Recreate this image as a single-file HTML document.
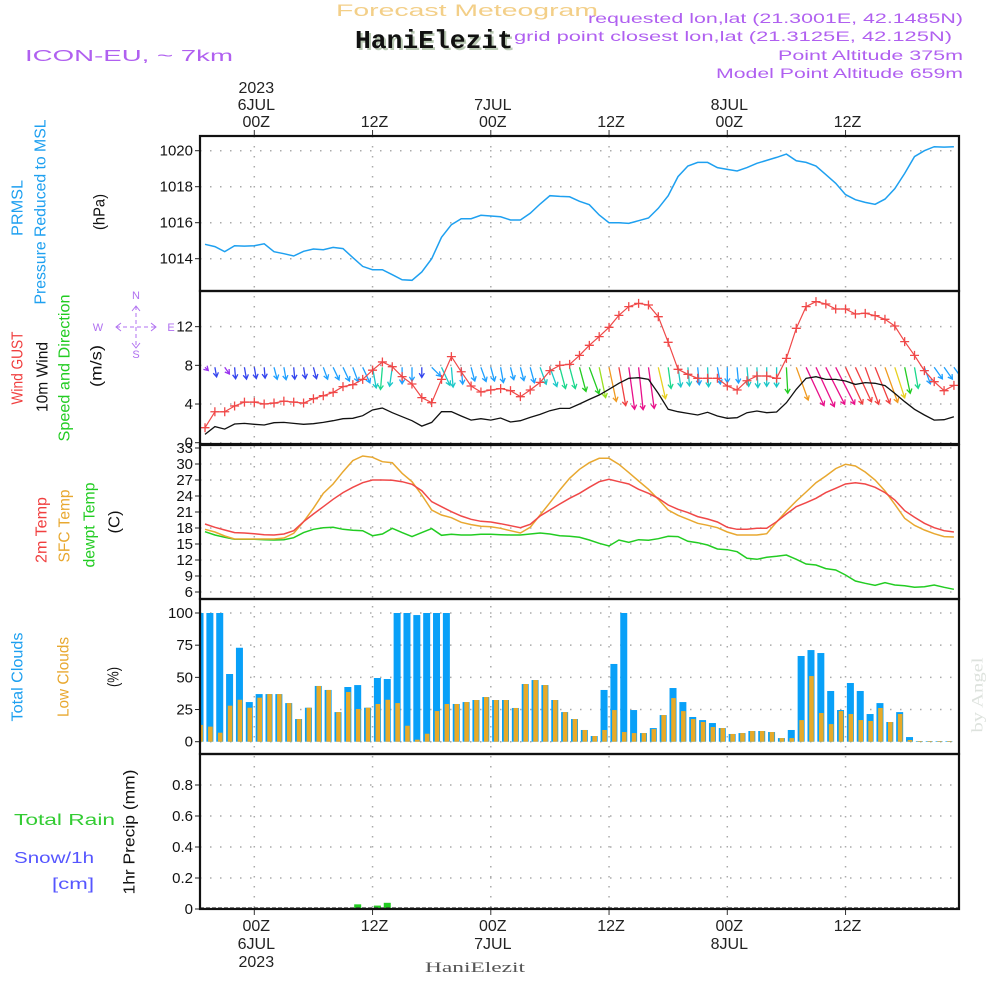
<!DOCTYPE html>
<html><head><meta charset="utf-8"><title>Forecast Meteogram HaniElezit</title>
<style>
html,body{margin:0;padding:0;background:#fff;}
svg{display:block;font-family:"Liberation Sans",sans-serif;}
.tk{font-size:15px;fill:#111;text-anchor:end;}
.tl{font-size:16px;fill:#222;text-anchor:middle;}
</style></head>
<body>
<svg id="chart" width="1000" height="1000" viewBox="0 0 1000 1000" xmlns="http://www.w3.org/2000/svg">
<defs>
<clipPath id="c1"><rect x="200" y="136" width="759" height="155"/></clipPath>
<clipPath id="c2"><rect x="200" y="291" width="759" height="153"/></clipPath>
<clipPath id="c3"><rect x="200" y="445" width="759" height="154"/></clipPath>
<clipPath id="c4"><rect x="200" y="599" width="759" height="155"/></clipPath>
<clipPath id="c5"><rect x="200" y="754" width="759" height="155"/></clipPath>
</defs>
<rect width="1000" height="1000" fill="#fff"/>
<text x="467" y="16" font-size="17" fill="#f3cf88" text-anchor="middle" textLength="262" lengthAdjust="spacingAndGlyphs">Forecast Meteogram</text>
<text x="436" y="50" font-size="26" font-weight="bold" font-family="Liberation Mono, monospace" fill="#b9c9b3" text-anchor="middle" textLength="158" lengthAdjust="spacingAndGlyphs">HaniElezit</text>
<text x="434" y="48" font-size="26" font-weight="bold" font-family="Liberation Mono, monospace" fill="#111" text-anchor="middle" textLength="158" lengthAdjust="spacingAndGlyphs">HaniElezit</text>
<text x="25" y="61" font-size="16" fill="#b060f0" textLength="208" lengthAdjust="spacingAndGlyphs">ICON-EU, ~ 7km</text>
<text x="963" y="23" font-size="14" fill="#b060f0" text-anchor="end" textLength="375" lengthAdjust="spacingAndGlyphs">requested lon,lat (21.3001E, 42.1485N)</text>
<text x="952" y="41" font-size="14" fill="#b060f0" text-anchor="end" textLength="438" lengthAdjust="spacingAndGlyphs">grid point closest lon,lat (21.3125E, 42.125N)</text>
<text x="963" y="60" font-size="14" fill="#b060f0" text-anchor="end" textLength="185" lengthAdjust="spacingAndGlyphs">Point Altitude 375m</text>
<text x="963" y="78" font-size="14" fill="#b060f0" text-anchor="end" textLength="247" lengthAdjust="spacingAndGlyphs">Model Point Altitude 659m</text>

<g font-size="16">
<text transform="translate(18,208) rotate(-90)" fill="#1ea0f0" text-anchor="middle" dominant-baseline="central" textLength="56" lengthAdjust="spacingAndGlyphs">PRMSL</text>
<text transform="translate(41,212) rotate(-90)" fill="#1ea0f0" text-anchor="middle" dominant-baseline="central" textLength="185" lengthAdjust="spacingAndGlyphs">Pressure Reduced to MSL</text>
<text transform="translate(100,212) rotate(-90)" fill="#111" text-anchor="middle" dominant-baseline="central" textLength="36" lengthAdjust="spacingAndGlyphs">(hPa)</text>
<text transform="translate(18,368) rotate(-90)" fill="#f04040" text-anchor="middle" dominant-baseline="central" textLength="73" lengthAdjust="spacingAndGlyphs">Wind GUST</text>
<text transform="translate(43,377) rotate(-90)" fill="#111" text-anchor="middle" dominant-baseline="central" textLength="70" lengthAdjust="spacingAndGlyphs">10m Wind</text>
<text transform="translate(65,368) rotate(-90)" fill="#22cc22" text-anchor="middle" dominant-baseline="central" textLength="147" lengthAdjust="spacingAndGlyphs">Speed and Direction</text>
<text transform="translate(97,366) rotate(-90)" fill="#111" text-anchor="middle" dominant-baseline="central" textLength="42" lengthAdjust="spacingAndGlyphs">(m/s)</text>
<text transform="translate(42,530) rotate(-90)" fill="#f04040" text-anchor="middle" dominant-baseline="central" textLength="66" lengthAdjust="spacingAndGlyphs">2m Temp</text>
<text transform="translate(65,526) rotate(-90)" fill="#e8a830" text-anchor="middle" dominant-baseline="central" textLength="73" lengthAdjust="spacingAndGlyphs">SFC Temp</text>
<text transform="translate(90,525) rotate(-90)" fill="#22cc22" text-anchor="middle" dominant-baseline="central" textLength="85" lengthAdjust="spacingAndGlyphs">dewpt Temp</text>
<text transform="translate(115,522) rotate(-90)" fill="#111" text-anchor="middle" dominant-baseline="central" textLength="23" lengthAdjust="spacingAndGlyphs">(C)</text>
<text transform="translate(18,677) rotate(-90)" fill="#1ea0f0" text-anchor="middle" dominant-baseline="central" textLength="89" lengthAdjust="spacingAndGlyphs">Total Clouds</text>
<text transform="translate(64,677) rotate(-90)" fill="#e8a830" text-anchor="middle" dominant-baseline="central" textLength="80" lengthAdjust="spacingAndGlyphs">Low Clouds</text>
<text transform="translate(114,677) rotate(-90)" fill="#111" text-anchor="middle" dominant-baseline="central" textLength="20" lengthAdjust="spacingAndGlyphs">(%)</text>
<text x="14" y="825" fill="#33cc33" textLength="101" lengthAdjust="spacingAndGlyphs">Total  Rain</text>
<text x="14" y="863" fill="#5555ff" textLength="80" lengthAdjust="spacingAndGlyphs">Snow/1h</text>
<text x="52" y="889" fill="#5555ff" textLength="42" lengthAdjust="spacingAndGlyphs">[cm]</text>
<text transform="translate(130,832) rotate(-90)" fill="#111" text-anchor="middle" dominant-baseline="central" textLength="125" lengthAdjust="spacingAndGlyphs">1hr Precip (mm)</text>
</g>

<g stroke="#b070f0" fill="none" stroke-width="1">
<line x1="116" y1="327" x2="156" y2="327" stroke-dasharray="4,3"/>
<line x1="136" y1="306" x2="136" y2="348" stroke-dasharray="4,3"/>
<polyline points="121,323 116,327 121,331"/>
<polyline points="151,323 156,327 151,331"/>
<polyline points="132,311 136,306 140,311"/>
<polyline points="132,343 136,348 140,343"/>
<text x="136" y="299" font-size="11" fill="#b070f0" stroke="none" text-anchor="middle">N</text>
<text x="136" y="358" font-size="11" fill="#b070f0" stroke="none" text-anchor="middle">S</text>
<text x="98" y="331" font-size="11" fill="#b070f0" stroke="none" text-anchor="middle">W</text>
<text x="171" y="331" font-size="11" fill="#b070f0" stroke="none" text-anchor="middle">E</text>
</g>

<text transform="translate(978,695) rotate(-90)" font-family="Liberation Serif, serif" font-size="16" fill="#dde2dd" text-anchor="middle" dominant-baseline="central" textLength="75" lengthAdjust="spacingAndGlyphs">by Angel</text>
<text x="475" y="972" font-family="Liberation Serif, serif" font-size="15" fill="#555" text-anchor="middle" textLength="100" lengthAdjust="spacingAndGlyphs">HaniElezit</text>

<g id="grid"></g>
<g id="marks"></g>
<g id="axes"></g>
</svg>
<script>
// ---- time axis (hourly, first point = 19Z 5JUL, i.e. hour -5 relative to 00Z 6JUL) ----
const startHour = -5;
const timeTickHours = [0, 12, 24, 36, 48, 60];
const topTickLabels = [["2023","6JUL","00Z"],["","","12Z"],["","7JUL","00Z"],["","","12Z"],["","8JUL","00Z"],["","","12Z"]];
const bottomTickLabels = [["00Z","6JUL","2023"],["12Z","",""],["00Z","7JUL",""],["12Z","",""],["00Z","8JUL",""],["12Z","",""]];

// ---- pressure (hPa) ----
const pressure = [1014.80,1014.67,1014.39,1014.72,1014.70,1014.72,1014.83,1014.39,1014.28,1014.15,1014.41,1014.54,1014.50,1014.63,1014.56,1014.06,1013.57,1013.39,1013.39,1013.11,1012.83,1012.80,1013.26,1014.0,1015.19,1015.89,1016.22,1016.22,1016.41,1016.37,1016.33,1016.15,1016.15,1016.52,1017.04,1017.5,1017.46,1017.44,1017.19,1017.0,
1016.43,1016.0,1016.0,1015.96,1016.11,1016.26,1016.80,1017.5,1018.56,1019.15,1019.35,1019.35,1019.06,1018.96,1018.87,1019.06,1019.30,1019.46,1019.63,1019.81,1019.44,1019.35,1019.15,1018.67,1018.19,1017.56,1017.28,1017.13,1017.02,1017.31,1017.89,1018.74,1019.67,1020.0,1020.22,1020.2,1020.22];
const pressureTicks = [1014, 1016, 1018, 1020];

// ---- wind (m/s) ----
const windGust = [1.55,3.2,3.2,3.8,4.2,4.2,4.0,4.1,4.3,4.2,4.1,4.55,4.86,5.2,5.8,6.0,6.55,7.5,8.35,7.86,6.83,6.07,4.66,4.14,6.55,8.9,7.34,5.86,5.24,5.45,5.59,5.38,4.76,5.45,6.24,7.45,8.0,8.1,9.03,10.07,
10.97,11.93,13.17,14.07,14.41,14.24,13.03,10.38,7.59,7.07,6.66,6.66,6.66,5.86,5.45,6.41,6.9,6.9,6.66,8.72,11.83,14.07,14.59,14.34,13.83,13.83,13.31,13.38,13.14,12.76,12.07,10.45,9.03,7.45,6.31,5.38,5.93];
const windSpeed = [0.86,1.66,1.41,1.93,2.0,1.9,1.83,2.07,2.1,2.0,1.9,1.97,2.1,2.28,2.48,2.52,2.79,3.38,3.59,3.1,2.69,2.28,1.72,2.1,3.21,3.21,2.76,2.34,2.48,2.34,2.55,2.14,2.28,2.62,2.93,3.31,3.55,3.55,4.0,4.48,
4.93,5.52,6.14,6.66,6.72,6.55,5.1,3.45,3.21,3.03,2.86,3.14,2.76,2.52,2.59,3.1,3.28,3.1,3.17,4.14,5.52,6.66,6.83,6.55,6.55,6.38,6.03,6.21,6.14,5.9,5.1,4.24,3.45,2.86,2.34,2.38,2.69];
const windDir = [315,350,325,355,350,350,355,345,350,355,350,345,340,335,335,340,335,350,5,8,0,0,0,315,335,355,355,345,340,345,350,345,345,345,340,340,345,345,345,340,
348,348,350,352,354,352,347,352,352,355,355,357,350,0,355,355,357,0,0,357,340,335,335,333,333,335,335,340,338,340,342,348,350,340,325,325,325];
const windTicks = [0, 4, 8, 12];

// ---- temperature (C) ----
const temp2m = [18.75,18.13,17.63,17.13,17.06,16.94,16.75,16.69,16.88,17.5,19.19,20.63,22.0,23.38,24.63,25.63,26.5,27.0,27.0,26.94,26.69,26.19,25.0,22.94,22.0,21.06,20.25,19.63,19.25,19.13,18.81,18.44,18.06,18.69,20.25,21.38,22.5,23.56,24.5,25.63,
26.69,27.13,26.69,26.25,25.25,24.5,23.56,22.31,21.5,20.88,20.13,19.69,19.13,18.13,17.75,17.75,17.94,17.94,19.19,20.63,22.0,22.75,23.56,24.63,25.44,26.25,26.5,26.25,25.63,24.63,23.25,21.25,20.0,18.88,18.06,17.5,17.25];
const tempSfc = [17.75,17.25,16.5,15.94,15.94,15.94,15.94,15.94,16.13,17.0,19.19,21.69,24.5,26.25,28.56,30.63,31.5,31.25,30.44,30.25,28.25,26.69,24.19,21.38,20.44,19.94,19.06,18.63,18.31,18.25,17.94,17.5,17.06,18.13,20.44,22.75,25.13,27.31,29.0,30.25,
31.06,31.06,29.94,28.38,26.81,25.25,23.38,21.38,20.38,19.63,18.88,18.5,18.06,17.25,16.69,16.69,16.69,16.94,19.13,21.19,23.06,24.75,26.5,27.75,29.13,29.94,29.63,28.5,27.0,24.94,22.44,19.81,18.5,17.63,16.94,16.38,16.31];
const tempDew = [17.31,16.69,16.25,15.88,15.88,15.88,15.81,15.75,15.81,16.19,17.13,17.75,18.06,18.13,17.75,17.56,17.5,16.56,16.88,17.94,17.13,16.38,17.13,17.88,16.63,16.81,16.69,16.69,16.81,16.81,16.75,16.69,16.69,16.88,17.06,16.88,16.56,16.44,16.25,15.75,
15.13,14.63,15.75,15.31,15.81,15.69,16.0,16.44,16.38,15.5,15.25,14.81,14.06,13.94,13.56,12.31,12.13,12.5,12.69,12.94,12.13,11.25,11.06,10.38,10.13,9.19,8.06,7.63,7.25,7.75,7.31,7.19,6.88,7.0,7.31,6.88,6.5];
const tempTicks = [6, 9, 12, 15, 18, 21, 24, 27, 30, 33];

// ---- clouds (%) ----
const totalClouds = [100,100,100,52.6,73,30.8,37,37,37,30,17.6,26.4,43.3,40.2,23,42.5,44,26.4,49.5,48.7,100,100,98.4,100,100,100,29.3,30.8,32.4,34.7,32.4,32.4,26.2,44.8,47.9,44,32.4,23,17.6,9.1,
4.4,40.2,60.4,100,24.6,6.7,10.6,20.7,41.7,30.8,19.2,16.8,14.5,10.6,6,6.7,8.3,8.3,7.5,2.8,9.1,66.6,71.2,68.9,39.4,24.6,45.6,39.4,21.5,30,15.3,23,3.6,0.5,0.5,0.5,0.5];
const lowClouds = [13,11.7,7,28,32.6,26.4,34.2,37,37,30,17.6,26.4,43.3,40.2,23,38.6,25.4,26.4,29.3,32.6,30,12.4,1.6,6.2,23.8,29.3,29.3,30.8,32.4,34.7,32.4,32.4,26.2,44.8,47.9,44,32.4,23,17.6,9.1,
4.4,9.1,24.6,7.5,6.7,6.7,9.8,20.7,33.9,23.8,17.6,15.3,11.4,10.6,6,6.7,8.3,8.3,7.5,2.8,2.8,16.8,51,22.3,13.7,23.8,21.5,16.8,16.1,26.2,15.3,21.5,1.3,0.5,0.5,0.5,0.5];
const cloudTicks = [0, 25, 50, 75, 100];

// ---- precipitation (mm/h) ----
const precip = [0,0,0,0,0,0,0,0,0,0,0,0,0,0,0,0,0.03,0,0.022,0.04,0,0,0,0,0,0,0,0,0,0,0,0,0,0,0,0,0,0,0,0,0,0,0,0,0,0,0,0,0,0,0,0,0,0,0,0,0,0,0,0,0,0,0,0,0,0,0,0,0,0,0,0,0,0,0,0,0];
const precipTicks = [0, 0.2, 0.4, 0.6, 0.8];
const precipTickLabels = ["0", "0.2", "0.4", "0.6", "0.8"];

// ---- axis functions ----
const X0 = 254.3, PXH = 9.854, XL = 200, XR = 959;
function xHour(h){ return X0 + h*PXH; }
function xIdx(i){ return xHour(startHour + i); }
function xBar(i){ return xIdx(i) - 5; }
function yP(v){ return 150.7 + (1020 - v)*18; }
function yW(v){ return 442.7 - v*9.67; }
function yT(v){ return 464 + (30 - v)*16/3; }
function yC(v){ return 741.7 - v*1.287; }
function yR(v){ return 909 - v*155; }

const NS = "http://www.w3.org/2000/svg";
function mk(tag, attrs, parent){
  const e = document.createElementNS(NS, tag);
  for (const k in attrs) e.setAttribute(k, attrs[k]);
  parent.appendChild(e);
  return e;
}
const grid = document.getElementById('grid');
const marks = document.getElementById('marks');
const axes = document.getElementById('axes');

const panels = [
  {name:'pressure', top:136, bot:291, ticks:pressureTicks, labels:pressureTicks.map(String), y:yP},
  {name:'wind', top:291, bot:444, ticks:windTicks, labels:windTicks.map(String), y:yW},
  {name:'temperature', top:445, bot:599, ticks:tempTicks, labels:tempTicks.map(String), y:yT},
  {name:'clouds', top:599, bot:754, ticks:cloudTicks, labels:cloudTicks.map(String), y:yC},
  {name:'precip', top:754, bot:909, ticks:precipTicks, labels:precipTickLabels, y:yR}
];

// grid lines + tick labels
panels.forEach(function(p){
  p.ticks.forEach(function(t, k){
    const yy = p.y(t);
    if (yy > p.top + 1 && yy < p.bot - 1) {
      const g = mk('line', {x1:XL, x2:XR, y1:yy, y2:yy, stroke:'#aaa', 'stroke-width':1.5, 'stroke-dasharray':'1.5,8.5'}, grid);
      
      
    }
    const tk = mk('line', {x1:195, x2:XL, y1:yy, y2:yy, stroke:'#222', 'stroke-width':1}, axes);
    
    
    const lb = mk('text', {x:193, y:yy + 5, class:'tk'}, axes);
    lb.textContent = p.labels[k];
    
    
  });
});
timeTickHours.forEach(function(h, k){
  const xx = xHour(h);
  const g = mk('line', {x1:xx, x2:xx, y1:136, y2:909, stroke:'#aaa', 'stroke-width':1.5, 'stroke-dasharray':'1.5,8.5'}, grid);
  
  
  const t1 = mk('line', {x1:xx, x2:xx, y1:130, y2:136, stroke:'#333'}, axes);
  
  
  const t2 = mk('line', {x1:xx, x2:xx, y1:909, y2:915, stroke:'#333'}, axes);
  
  
  const tys = [93, 110, 127];
  topTickLabels[k].forEach(function(s, j){
    if (!s) return;
    const t = mk('text', {x:xx + 2, y:tys[j], class:'tl'}, axes);
    t.textContent = s;
    
    
  });
  const bys = [931, 949, 967];
  bottomTickLabels[k].forEach(function(s, j){
    if (!s) return;
    const t = mk('text', {x:xx + 2, y:bys[j], class:'tl'}, axes);
    t.textContent = s;
    
    
  });
});

function linePath(arr, yf){
  return arr.map(function(v, i){ return (i ? 'L' : 'M') + xIdx(i).toFixed(1) + ',' + yf(v).toFixed(1); }).join('');
}

// pressure
const g1 = mk('g', {'clip-path':'url(#c1)'}, marks);
const pl = mk('path', {d:linePath(pressure, yP), fill:'none', stroke:'#1ea0f0', 'stroke-width':1.5}, g1);



// wind
const g2 = mk('g', {'clip-path':'url(#c2)'}, marks);
function windColor(s){
  if (s < 1.5) return '#9933ee';
  if (s < 2.05) return '#3344ee';
  if (s < 2.9) return '#1ea0ff';
  if (s < 3.4) return '#1bc8c8';
  if (s < 3.9) return '#1bd88c';
  if (s < 4.5) return '#22cc22';
  if (s < 5.0) return '#99e022';
  if (s < 5.5) return '#e8d020';
  if (s < 6.0) return '#f09a20';
  if (s < 6.5) return '#f04040';
  return '#e8108a';
}
windDir.forEach(function(d, i){
  const s = windSpeed[i];
  const len = 6.5*s - 1;
  const rad = d*Math.PI/180;
  const dx = -Math.sin(rad), dy = Math.cos(rad);
  const x1 = xIdx(i), y1 = yW(7.8);
  const x2 = x1 + dx*len, y2 = y1 + dy*len;
  const a = Math.atan2(dy, dx), hl = 5;
  const col = windColor(s);
  const arrow = mk('path', {d:'M'+x1.toFixed(1)+','+y1.toFixed(1)+'L'+x2.toFixed(1)+','+y2.toFixed(1)+
    'M'+(x2-hl*Math.cos(a-0.55)).toFixed(1)+','+(y2-hl*Math.sin(a-0.55)).toFixed(1)+'L'+x2.toFixed(1)+','+y2.toFixed(1)+
    'L'+(x2-hl*Math.cos(a+0.55)).toFixed(1)+','+(y2-hl*Math.sin(a+0.55)).toFixed(1),
    fill:'none', stroke:col, 'stroke-width':1.3}, g2);
  
  
});
const ws = mk('path', {d:linePath(windSpeed, yW), fill:'none', stroke:'#111', 'stroke-width':1.3}, g2);


const wg = mk('path', {d:linePath(windGust, yW), fill:'none', stroke:'#f04848', 'stroke-width':1.2}, g2);


windGust.forEach(function(v, i){
  const x = xIdx(i), y = yW(v);
  const m = mk('path', {d:'M'+(x-4.5)+','+y+'h9M'+x+','+(y-4.5)+'v9', stroke:'#f04848', 'stroke-width':1.3}, g2);
  
  
});

// temperature
const g3 = mk('g', {'clip-path':'url(#c3)'}, marks);
[[tempDew, '#22cc22', 'dewpoint-line'], [tempSfc, '#e8a830', 'sfc-temp-line'], [temp2m, '#f04848', 'temp-2m-line']].forEach(function(s){
  const l = mk('path', {d:linePath(s[0], yT), fill:'none', stroke:s[1], 'stroke-width':1.5}, g3);
  
  
});

// clouds
const g4 = mk('g', {'clip-path':'url(#c4)'}, marks);
totalClouds.forEach(function(v, i){
  const x = xBar(i);
  const b = mk('rect', {x:x-3.5, y:yC(v), width:7, height:yC(0)-yC(v), fill:'#08a0f8'}, g4);
  
  
  const lv = lowClouds[i];
  const o = mk('rect', {x:x-1.8, y:yC(lv), width:4.6, height:yC(0)-yC(lv), fill:'#e8aa28'}, g4);
  
  
});

// precip
const g5 = mk('g', {'clip-path':'url(#c5)'}, marks);
precip.forEach(function(v, i){
  if (v <= 0) return;
  const x = xBar(i);
  const b = mk('rect', {x:x-3.5, y:yR(v), width:7, height:yR(0)-yR(v), fill:'#22cc22'}, g5);
  
  
});
const zl = mk('line', {x1:XL, x2:XR, y1:908, y2:908, stroke:'#333', 'stroke-width':1.2, 'stroke-dasharray':'4,2'}, g5);



// frames
panels.forEach(function(p){
  const r = mk('rect', {x:XL, y:p.top, width:XR-XL, height:p.bot-p.top, fill:'none', stroke:'#111', 'stroke-width':2.2}, axes);
  
  
});
</script>
</body></html>
